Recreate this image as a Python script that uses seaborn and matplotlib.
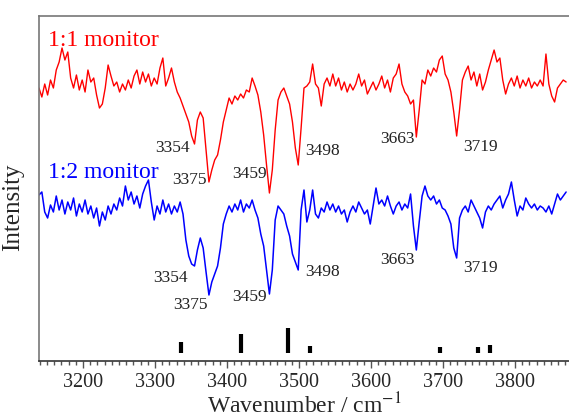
import numpy as np
import pandas as pd
import seaborn as sns
import matplotlib.pyplot as plt

# wavenumber grid of the measured spectra (cm-1)
wavenumber = np.arange(3139, 3872, 4)

# 1:1 monitor trace (arb. units, includes vertical offset)
red = [212, 203, 216, 205, 220, 212, 230, 238, 252, 240,
       248, 222, 212, 225, 210, 220, 208, 230, 218, 222,
       205, 192, 196, 212, 235, 224, 214, 218, 208, 216,
       210, 220, 212, 224, 230, 216, 228, 218, 226, 214,
       222, 216, 232, 242, 214, 222, 232, 218, 208, 202,
       194, 186, 178, 164, 156, 180, 188, 182, 150, 118,
       130, 140, 145, 160, 178, 190, 202, 196, 204, 200,
       206, 202, 210, 208, 222, 214, 205, 188, 165, 135,
       107, 130, 170, 200, 208, 212, 204, 196, 178, 152,
       135, 172, 212, 214, 218, 236, 216, 212, 194, 216,
       222, 214, 226, 214, 222, 210, 218, 208, 216, 210,
       216, 226, 214, 220, 206, 212, 218, 210, 216, 224,
       212, 220, 208, 222, 226, 236, 216, 208, 204, 196,
       200, 163, 190, 220, 216, 230, 224, 232, 228, 240,
       244, 226, 220, 208, 188, 164, 190, 220, 228, 234,
       220, 228, 214, 226, 210, 218, 230, 240, 250, 238,
       242, 220, 206, 216, 222, 214, 224, 212, 220, 214,
       222, 212, 218, 214, 220, 214, 246, 216, 204, 198,
       212, 216, 220, 218]

# 1:2 monitor trace
blue = [105, 108, 88, 82, 95, 88, 104, 90, 100, 86,
        98, 90, 102, 84, 96, 88, 100, 86, 94, 82,
        92, 74, 88, 80, 94, 86, 96, 90, 102, 94,
        114, 100, 108, 96, 104, 92, 106, 114, 120, 98,
        80, 94, 86, 100, 88, 96, 86, 94, 88, 98,
        86, 60, 44, 36, 34, 50, 62, 52, 28, 5,
        18, 26, 34, 52, 76, 86, 94, 88, 96, 90,
        100, 88, 96, 92, 100, 90, 82, 66, 54, 30,
        6, 30, 80, 94, 90, 86, 74, 64, 46, 38,
        30, 90, 110, 78, 90, 110, 86, 82, 92, 88,
        98, 90, 96, 88, 94, 86, 90, 78, 88, 94,
        88, 98, 92, 86, 90, 76, 94, 112, 96, 100,
        94, 104, 94, 86, 94, 98, 90, 96, 92, 106,
        74, 50, 78, 104, 114, 104, 100, 104, 96, 100,
        92, 90, 84, 76, 52, 42, 82, 90, 94, 88,
        100, 94, 88, 82, 72, 88, 94, 90, 96, 100,
        104, 92, 100, 106, 118, 100, 84, 94, 90, 102,
        96, 92, 96, 90, 94, 92, 88, 94, 86, 96,
        106, 100, 104, 108]

# calculated stick spectrum
stick_pos = [3336, 3419, 3485, 3515, 3696, 3748, 3765]
stick_int = [11, 19, 25, 7, 6, 6, 8]

# peak labels
peaks = ["3354", "3375", "3459", "3498", "3663", "3719"]
red_lab_xy = [(3324, 152), (3348, 120), (3432, 126), (3533, 149), (3637, 161), (3752, 153)]
blue_lab_xy = [(3322, 22), (3349, -5), (3432, 3), (3533, 28), (3637, 40), (3752, 32)]

df = pd.DataFrame({"wn": wavenumber, "r11": red, "r12": blue})

sns.set_style("white")
plt.rcParams["font.family"] = ["Liberation Serif", "DejaVu Serif"]
plt.rcParams["mathtext.fontset"] = "stix"

fig = plt.figure(figsize=(5.69, 4.17), dpi=100)
ax = fig.add_axes([0.0685, 0.1343, 0.9315, 0.8273])

sns.lineplot(data=df, x="wn", y="r11", color="#ff0000", lw=1.0, estimator=None, ax=ax)
sns.lineplot(data=df, x="wn", y="r12", color="#0000ff", lw=1.1, estimator=None, ax=ax)

base = -53
ax.vlines(stick_pos, base, [base + s for s in stick_int], color="black", lw=3)

for lab, (x, y) in zip(peaks, red_lab_xy):
    ax.text(x, y, lab, fontsize=12.5, color="#222222", ha="center", va="center")
for lab, (x, y) in zip(peaks, blue_lab_xy):
    ax.text(x, y, lab, fontsize=12.5, color="#222222", ha="center", va="center")

ax.text(3151, 260, "1:1 monitor", color="#ff0000", fontsize=17, va="center")
ax.text(3151, 128, "1:2 monitor", color="#0000ff", fontsize=17, va="center")

ax.set_xlim(3139, 3875)
ax.set_ylim(-61, 284)
ax.set_yticks([])
ax.set_xticks(range(3200, 3801, 100))
ax.set_xticks(range(3140, 3876, 10), minor=True)
ax.tick_params(axis="x", which="major", direction="out", length=5, width=1, color="#555555",
               labelsize=14.5, pad=4, bottom=True)
ax.tick_params(axis="x", which="minor", direction="out", length=3, width=1, color="#555555", bottom=True)

ax.set_xlabel("Wavenumber / cm$^{-1}$", fontsize=17, labelpad=0)
ax.set_ylabel("Intensity", fontsize=18)
ax.yaxis.set_label_coords(-0.028, 0.446)

ax.spines["right"].set_visible(False)
ax.spines["top"].set_color("#777777")
ax.spines["left"].set_color("#777777")
ax.spines["bottom"].set_color("#333333")
for s in ["top", "left", "bottom"]:
    ax.spines[s].set_linewidth(1.2)

fig.savefig("out.png", dpi=100)
